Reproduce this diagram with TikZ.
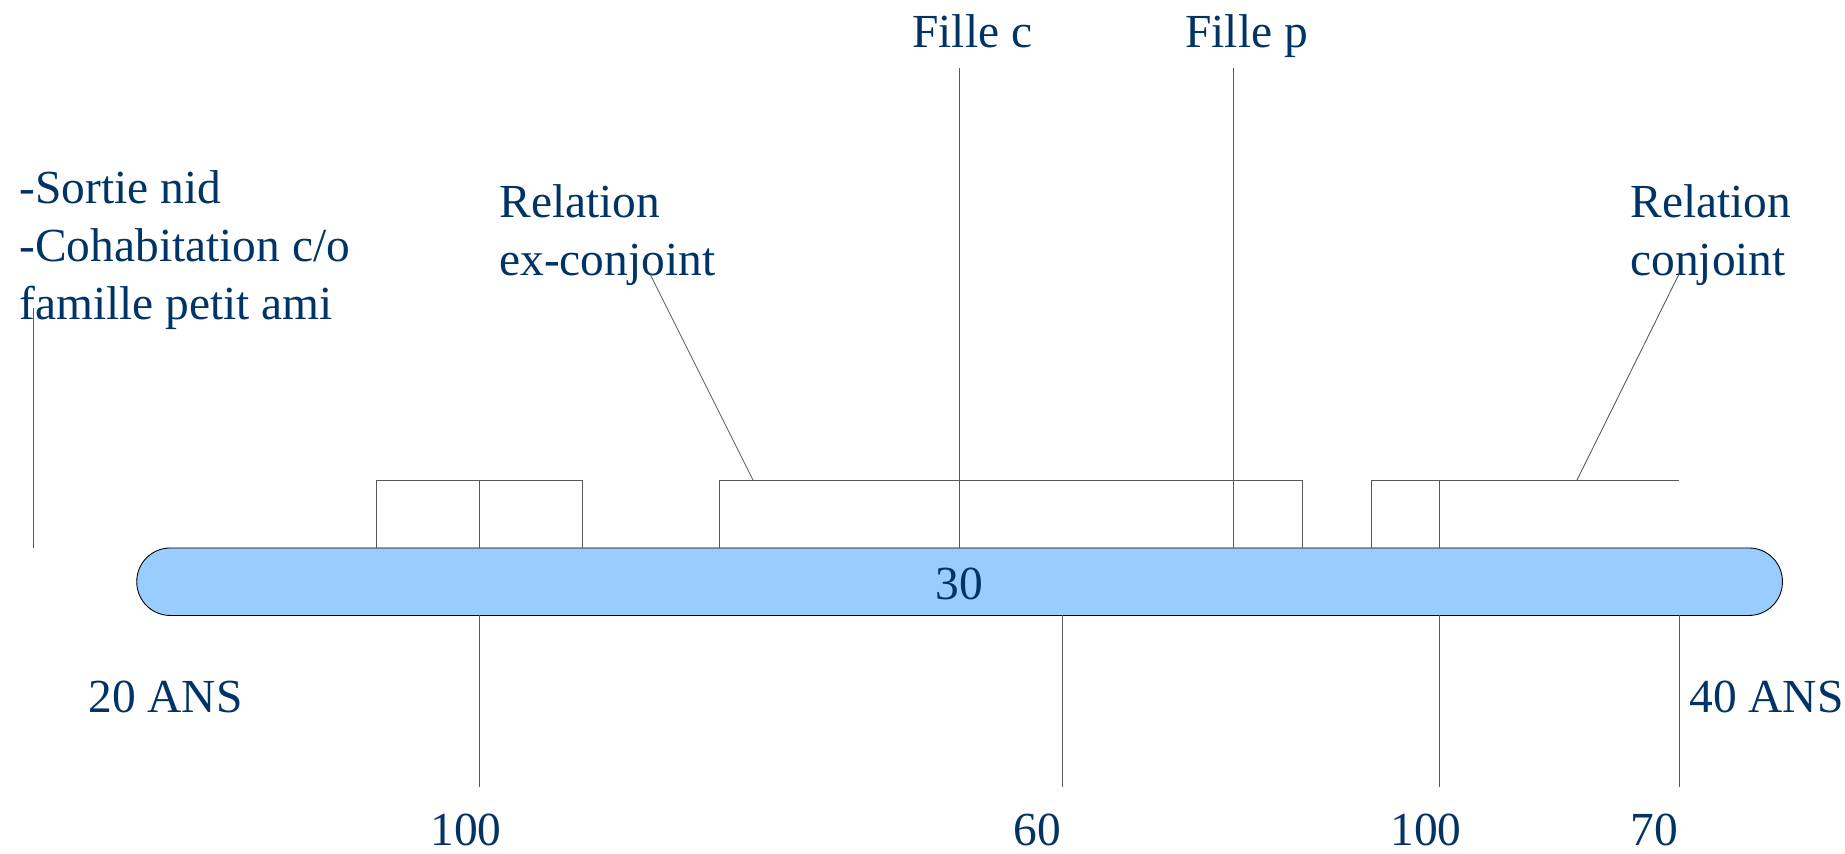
\documentclass[tikz,border=0pt]{standalone}
\usepackage{fontspec}
\setmainfont{Liberation Serif}
\usetikzlibrary{positioning}
\definecolor{dkblue}{RGB}{0,51,102}
\definecolor{barblue}{RGB}{153,204,255}

\begin{document}
\begin{tikzpicture}[x=0.02cm,y=-0.02cm,
  lbl/.style={text=dkblue,font=\fontsize{27}{33}\selectfont,inner sep=0pt,align=left},
  tick/.style={draw=black!65,line width=0.5pt},
  bar/.style={draw=black,fill=barblue,line width=0.5pt,rounded corners=0.67cm,
    minimum width=32.92cm,minimum height=1.35cm,inner sep=0pt}]

\useasboundingbox (0,0) rectangle (1845,853);

% barre des ages
\node[bar] (bar) at (959.6,581.7) {};
\node[lbl,anchor=base] (age30) at (959,599) {30};

% textes du haut (ancre sur la derniere ligne)
\node[lbl,anchor=base west] (nid) at (19,319) {-Sortie nid\\-Cohabitation c/o\\famille petit ami};
\node[lbl,anchor=base west] (exconj) at (499,275) {Relation\\ex-conjoint};
\node[lbl,anchor=base west] (conj) at (1630,275) {Relation\\conjoint};
\node[lbl,anchor=base west] (fillec) at (912,47) {Fille c};
\node[lbl,anchor=base west] (fillep) at (1185,47) {Fille p};

% textes du bas
\node[lbl,anchor=base west] (ans20) at (88,712) {20 ANS};
\node[lbl,anchor=base west] (ans40) at (1689,712) {40 ANS};
\node[lbl,anchor=base] (n100a) at (466,845) {100};
\node[lbl,anchor=base] (n60) at (1037,845) {60};
\node[lbl,anchor=base] (n100b) at (1426,845) {100};
\node[lbl,anchor=base] (n70) at (1654,845) {70};

% cases au-dessus de la barre
\draw[tick] (376.5,548) -- (376.5,480) -- (582.5,480) -- (582.5,548);
\draw[tick] (479,480) -- (479,548);
\draw[tick] (719,548) -- (719,480) -- (1302.5,480) -- (1302.5,548);
\draw[tick] (1371,548) -- (1371,480) -- (1679,480);
\draw[tick] (1439,480) -- (1439,548);

% traits vers les textes
\coordinate (nid foot) at (33,308);
\draw[tick] (nid foot) -- (nid foot |- bar.north);
\coordinate (fc foot) at (959,68);
\draw[tick] (fc foot) -- (fc foot |- bar.north);
\coordinate (fp foot) at (1233,68);
\draw[tick] (fp foot) -- (fp foot |- bar.north);
\coordinate (exconj foot) at (650,274);
\draw[tick] (exconj foot) -- (753,480);
\coordinate (conj foot) at (1679,274);
\draw[tick] (conj foot) -- (1577,480);

% traits sous la barre
\foreach \x in {479,1062.5,1439,1679}
  \draw[tick] (\x,615.4) -- (\x,787);

\end{tikzpicture}
\end{document}
